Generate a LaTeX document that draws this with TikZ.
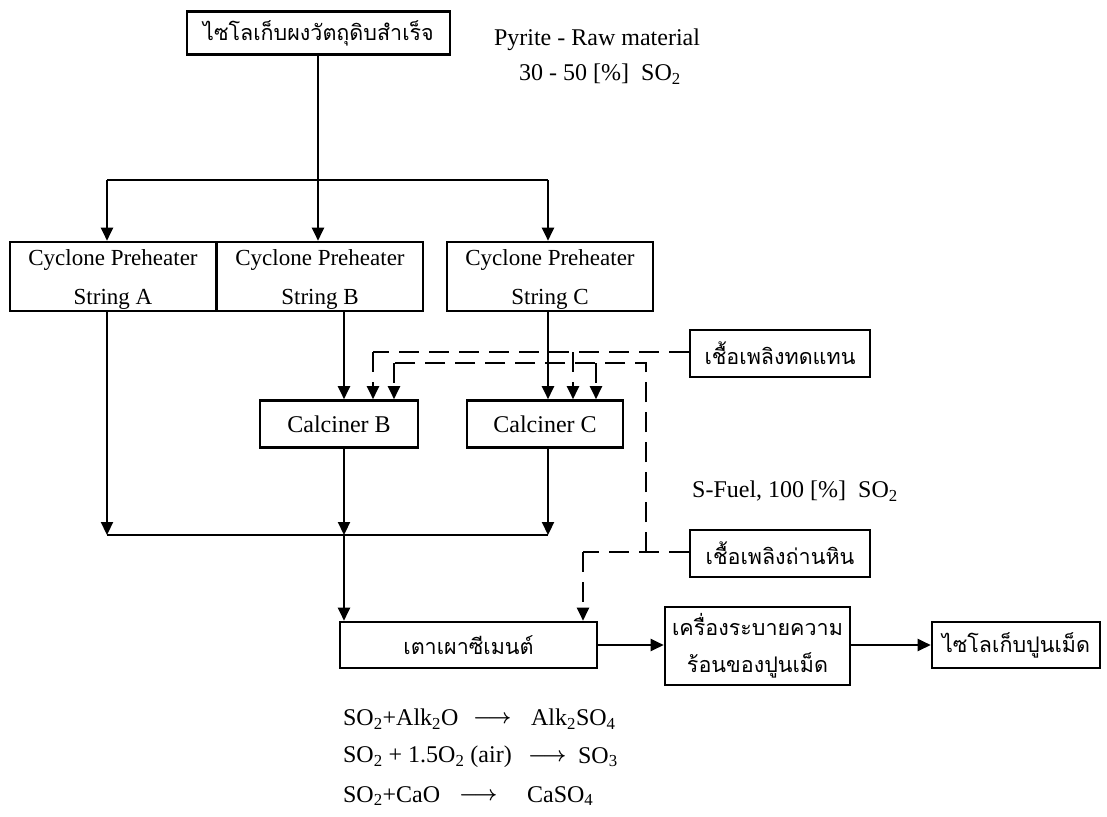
\documentclass[tikz,border=0pt]{standalone}
\usepackage{fontspec}
\setmainfont{Liberation Serif}
\newfontfamily\thai[Script=Thai]{Loma}
\usetikzlibrary{arrows.meta}
\begin{document}
\begin{tikzpicture}[x=1pt,y=-1pt,line width=2.2pt,
  font=\fontsize{24}{28}\selectfont,
  box/.style={draw,line width=2.6pt,inner sep=0pt,align=center},
  cyc/.style={box,font=\fontsize{23}{27}\selectfont,minimum width=206pt,minimum height=69pt},
  thaitext/.style={font=\thai\fontsize{21.5}{37}\selectfont},
  arr/.style={-{Triangle[length=13pt,width=12pt]}},
  dsh/.style={dash pattern=on 20pt off 10pt},
  lbl/.style={inner sep=0pt,anchor=west},
  rarrow/.style={lbl,font=\fontsize{20}{24}\selectfont\boldmath}]
\useasboundingbox (0,0) rectangle (1107,816);

% material silo and preheater strings
\node[box,thaitext,minimum width=263pt,minimum height=43pt] (silo) at (318.5,33) {ไซโลเก็บผงวัตถุดิบสำเร็จ};
\node[cyc] (cycA) at (113,276.5) {\rule{0pt}{22pt}Cyclone Preheater\\[12pt]String A};
\node[cyc] (cycB) at (320,276.5) {\rule{0pt}{22pt}Cyclone Preheater\\[12pt]String B};
\node[cyc] (cycC) at (550,276.5) {\rule{0pt}{22pt}Cyclone Preheater\\[12pt]String C};

% calciners
\node[box,minimum width=158pt,minimum height=47pt] (calB) at (339,424) {Calciner B};
\node[box,minimum width=156pt,minimum height=47pt] (calC) at (545,424) {Calciner C};

% fuels
\node[box,thaitext,minimum width=180pt,minimum height=47pt] (alt) at (780,353.5) {เชื้อเพลิงทดแทน};
\node[box,thaitext,minimum width=180pt,minimum height=47pt] (coal) at (780,553.5) {เชื้อเพลิงถ่านหิน};

% kiln line
\node[box,thaitext,minimum width=257pt,minimum height=46pt] (kiln) at (468.5,645) {เตาเผาซีเมนต์};
\node[box,thaitext,minimum width=185pt,minimum height=78pt] (cool) at (757.5,646) {เครื่องระบายความ\\ร้อนของปูนเม็ด};
\node[box,thaitext,minimum width=168pt,minimum height=46pt] (clk) at (1016,645) {ไซโลเก็บปูนเม็ด};

% labels
\node[lbl,anchor=center] (pyr) at (597,40) {Pyrite - Raw material};
\node[lbl,anchor=center] (pyrso) at (600,74) {30 - 50 [\%]\ \ SO\textsubscript{2}};
\node[lbl,anchor=center] (sfuel) at (795,491) {S-Fuel, 100 [\%]\ \ SO\textsubscript{2}};

% reactions
\node[lbl] (eq1l) at (342,719) {SO\textsubscript{2}+Alk\textsubscript{2}O};
\node[rarrow] (eq1a) at (472,719) {$\longrightarrow$};
\node[lbl] (eq1r) at (530,719) {Alk\textsubscript{2}SO\textsubscript{4}};
\node[lbl] (eq2l) at (342,757) {SO\textsubscript{2} + 1.5O\textsubscript{2} (air)};
\node[rarrow] (eq2a) at (527,757) {$\longrightarrow$};
\node[lbl] (eq2r) at (577,757) {SO\textsubscript{3}};
\node[lbl] (eq3l) at (342,796) {SO\textsubscript{2}+CaO};
\node[rarrow] (eq3a) at (458,796) {$\longrightarrow$};
\node[lbl] (eq3r) at (526,796) {CaSO\textsubscript{4}};

% feed distribution
\coordinate (j0) at (318,180);
\coordinate (jA) at (107,180);
\coordinate (jC) at (548,180);
\draw (silo.south -| j0) -- (j0);
\draw (jA) -- (jC);
\draw[arr] (jA) -- (jA |- cycA.north);
\draw[arr] (j0) -- (j0 |- cycB.north);
\draw[arr] (jC) -- (jC |- cycC.north);

% meal flow to the kiln
\coordinate (mA) at (107,535);
\coordinate (mB) at (344,535);
\coordinate (mC) at (548,535);
\draw (mA) -- (mC);
\draw[arr] (mA |- cycA.south) -- (mA);
\draw[arr] (mB |- cycB.south) -- (mB |- calB.north);
\draw[arr] (mC |- cycC.south) -- (mC |- calC.north);
\draw[arr] (mB |- calB.south) -- (mB);
\draw[arr] (mC |- calC.south) -- (mC);
\draw[arr] (mB) -- (mB |- kiln.north);
\draw[arr] (kiln.east) -- (kiln.east -| cool.west);
\draw[arr] (cool.east |- clk.west) -- (clk.west);

% alternative fuel
\coordinate (a1) at (373,352);
\coordinate (a2) at (573,352);
\draw[dsh] (alt.west |- a1) -- (a1);
\draw[dsh,arr] (a1) -- (a1 |- calB.north);
\draw[dsh,arr] (a2) -- (a2 |- calC.north);

% coal
\coordinate (c0) at (646,552);
\coordinate (c1) at (646,363);
\coordinate (c2) at (394,363);
\coordinate (c3) at (596,363);
\coordinate (c4) at (583,552);
\draw[dsh] (coal.west |- c0) -- (c4);
\draw[dsh,arr] (c4) -- (c4 |- kiln.north);
\draw[dsh] (c0) -- (c1) -- (c2);
\draw[dsh,arr] (c2) -- (c2 |- calB.north);
\draw[dsh,arr] (c3) -- (c3 |- calC.north);
\end{tikzpicture}
\end{document}
